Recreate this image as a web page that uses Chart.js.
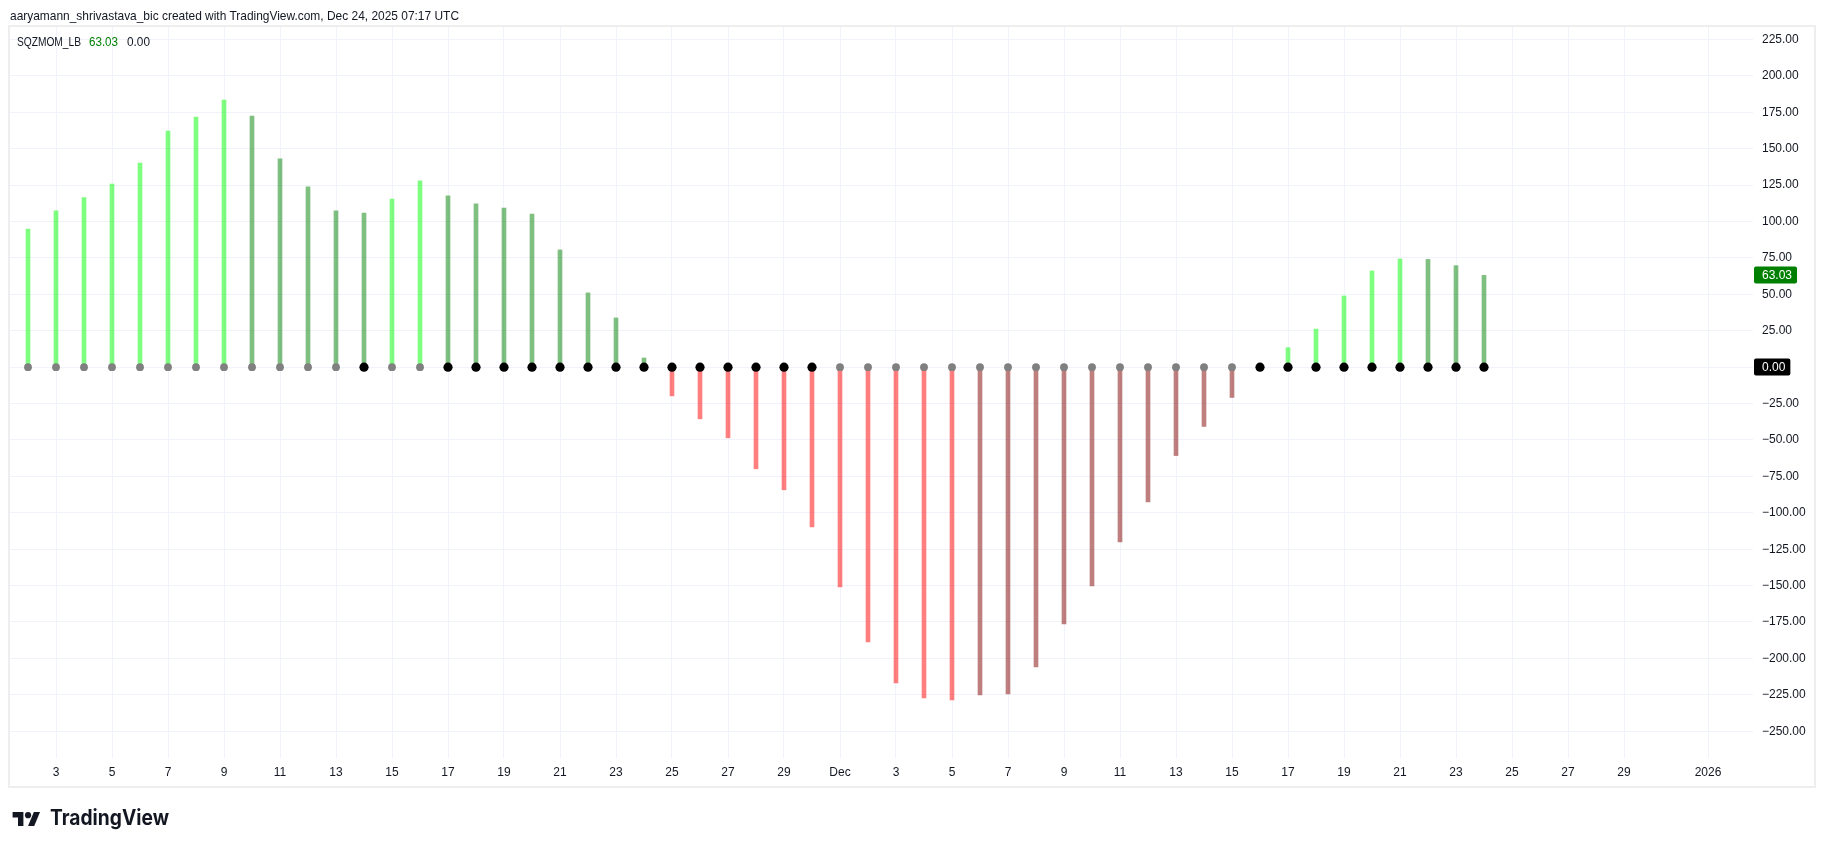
<!DOCTYPE html>
<html>
<head>
<meta charset="utf-8">
<script src="https://cdn.jsdelivr.net/npm/chart.js@4.4.0/dist/chart.umd.min.js"></script>
<style>
  html, body { margin:0; padding:0; background:#ffffff; }
  body { width:1825px; height:847px; position:relative; overflow:hidden; font-family:'Liberation Sans', Arial, sans-serif; color:#131722; }
  #c { position:absolute; left:0; top:0; }
  .txt { position:absolute; white-space:nowrap; transform-origin:0 50%; line-height:1; }
</style>
</head>
<body>
<canvas id="c" width="1825" height="847"></canvas>
<div id="hdr" class="txt" style="left:10px; top:9px; font-size:13px;">aaryamann_shrivastava_bic created with TradingView.com, Dec 24, 2025 07:17 UTC</div>
<div id="lg1" class="txt" style="left:17px; top:36px; font-size:12px;">SQZMOM_LB</div>
<div id="lg2" class="txt" style="left:89px; top:36px; font-size:12px; color:#008000;">63.03</div>
<div id="lg3" class="txt" style="left:127px; top:36px; font-size:12px;">0.00</div>
<svg style="position:absolute; left:12px; top:809px;" width="29" height="17" viewBox="0 0 36 22">
  <path d="M14 22H7V11H0V4h14v18z" fill="#131722"/>
  <circle cx="20" cy="8" r="4" fill="#131722"/>
  <path d="M28 22h-8l7.5-18h8L28 22z" fill="#131722"/>
</svg>
<div id="logo" class="txt" style="left:50px; top:807px; font-size:21px; font-weight:700; font-family:Inter, 'Liberation Sans', sans-serif;">TradingView</div>
<script>
// ---- data ----
const dates = [
  '2025-11-02','2025-11-03','2025-11-04','2025-11-05','2025-11-06','2025-11-07','2025-11-08','2025-11-09',
  '2025-11-10','2025-11-11','2025-11-12','2025-11-13','2025-11-14','2025-11-15','2025-11-16','2025-11-17',
  '2025-11-18','2025-11-19','2025-11-20','2025-11-21','2025-11-22','2025-11-23','2025-11-24','2025-11-25',
  '2025-11-26','2025-11-27','2025-11-28','2025-11-29','2025-11-30',
  '2025-12-01','2025-12-02','2025-12-03','2025-12-04','2025-12-05','2025-12-06','2025-12-07','2025-12-08',
  '2025-12-09','2025-12-10','2025-12-11','2025-12-12','2025-12-13','2025-12-14','2025-12-15','2025-12-16',
  '2025-12-17','2025-12-18','2025-12-19','2025-12-20','2025-12-21','2025-12-22','2025-12-23','2025-12-24'
];
const momentum = [
  94.9, 107.3, 116.4, 125.8, 140.2, 162.2, 171.8, 183.5,
  172.5, 143.0, 123.8, 107.3, 105.9, 115.5, 127.9, 117.6,
  112.1, 109.3, 105.2, 80.5, 51.0, 33.8, 6.3, -19.7,
  -35.5, -48.5, -69.8, -84.2, -109.7,
  -150.9, -188.6, -216.8, -227.1, -228.5, -225.0, -224.4, -205.8,
  -176.3, -150.2, -120.0, -92.5, -60.7, -40.7, -20.8, 0,
  13.4, 26.2, 48.9, 66.1, 74.3, 74.0, 69.7, 63.03
];
// 1 = squeeze on (black dot), 0 = squeeze off (gray dot)
const squeezeOn = [
  0,0,0,0,0,0,0,0,
  0,0,0,0,1,0,0,1,
  1,1,1,1,1,1,1,1,
  1,1,1,1,1,
  0,0,0,0,0,0,0,0,
  0,0,0,0,0,0,0,1,
  1,1,1,1,1,1,1,1
];
const xTickDates = [
  '2025-11-03','2025-11-05','2025-11-07','2025-11-09','2025-11-11','2025-11-13','2025-11-15','2025-11-17',
  '2025-11-19','2025-11-21','2025-11-23','2025-11-25','2025-11-27','2025-11-29','2025-12-01','2025-12-03',
  '2025-12-05','2025-12-07','2025-12-09','2025-12-11','2025-12-13','2025-12-15','2025-12-17','2025-12-19',
  '2025-12-21','2025-12-23','2025-12-25','2025-12-27','2025-12-29','2026-01-01'
];
const xTickLabels = [
  '3','5','7','9','11','13','15','17','19','21','23','25','27','29','Dec','3',
  '5','7','9','11','13','15','17','19','21','23','25','27','29','2026'
];
const yTicks = [-250,-225,-200,-175,-150,-125,-100,-75,-50,-25,0,25,50,75,100,125,150,175,200,225];
const lastValue = 63.03;
const lastDot = 0.00;

// ---- helpers ----
const DAY0 = Date.UTC(2025, 10, 1);
function dayIndex(s) {
  const p = s.split('-').map(Number);
  return Math.round((Date.UTC(p[0], p[1]-1, p[2]) - DAY0) / 86400000);
}
const xs = dates.map(dayIndex);
const tickXs = xTickDates.map(dayIndex);
const LIME = 'rgba(0,255,0,0.5)', GREEN = 'rgba(0,128,0,0.5)', RED = 'rgba(255,0,0,0.5)', MAROON = 'rgba(128,0,0,0.5)';
const barColors = momentum.map((v, i) => {
  const p = i > 0 ? momentum[i-1] : 0;
  return v > 0 ? (v > p ? LIME : GREEN) : (v < p ? RED : MAROON);
});
const fmt = v => (v < 0 ? '\u2212' : '') + Math.abs(v).toFixed(2);

function fit(id, w) {
  const el = document.getElementById(id);
  const r = el.getBoundingClientRect().width;
  if (r > 0) el.style.transform = 'scaleX(' + (w / r) + ')';
}

const framePlugin = {
  id: 'frame',
  afterDraw(chart) {
    const c = chart.ctx;
    const ys = chart.scales.y;
    c.save();
    c.strokeStyle = '#eeeeee';
    c.lineWidth = 2;
    c.strokeRect(9, 26, 1806, 761);
    // price labels
    c.font = '12px "Liberation Sans", Arial, sans-serif';
    c.textBaseline = 'middle';
    c.textAlign = 'left';
    const boxes = [[lastValue, '#008000'], [lastDot, '#000000']];
    boxes.forEach(([v, col]) => {
      const y = ys.getPixelForValue(v);
      const t = fmt(v);
      const w = c.measureText(t).width + 13;
      c.fillStyle = col;
      c.beginPath();
      if (c.roundRect) c.roundRect(1754, Math.round(y) - 8.5, w, 17, 2); else c.rect(1754, Math.round(y) - 8.5, w, 17);
      c.fill();
      c.fillStyle = '#ffffff';
      c.fillText(t, 1762, Math.round(y) + 0.5);
    });
    c.restore();
  }
};

new Chart(document.getElementById('c'), {
  type: 'bar',
  data: {
    datasets: [
      {
        type: 'scatter',
        data: xs.map((x, i) => ({ x: x, y: 0 })),
        pointRadius: squeezeOn.map(s => s ? 4.6 : 3.9),
        pointBackgroundColor: squeezeOn.map(s => s ? '#000000' : '#808080'),
        pointBorderWidth: 0,
        pointHoverRadius: 0,
        order: 0
      },
      {
        type: 'bar',
        data: xs.map((x, i) => ({ x: x, y: momentum[i] })),
        backgroundColor: barColors,
        barThickness: 4,
        borderWidth: 0,
        order: 1
      }
    ]
  },
  options: {
    responsive: false,
    animation: false,
    devicePixelRatio: 1,
    layout: { padding: { left: 9, right: 10, top: 26, bottom: 60 } },
    plugins: { legend: { display: false }, tooltip: { enabled: false } },
    events: [],
    scales: {
      x: {
        type: 'linear',
        min: 9 / 28,
        max: 1753 / 28,
        offset: false,
        grid: { color: '#f0f3fa', lineWidth: 1, drawTicks: false, offset: false },
        border: { display: false },
        afterBuildTicks: s => { s.ticks = tickXs.map(v => ({ value: v })); },
        afterFit: s => { s.height = 29; },
        ticks: {
          autoSkip: false, maxRotation: 0, padding: 7, color: '#131722',
          font: { family: '"Liberation Sans", Arial, sans-serif', size: 12 },
          callback: v => { const k = tickXs.indexOf(v); return k >= 0 ? xTickLabels[k] : ''; }
        }
      },
      y: {
        type: 'linear',
        position: 'right',
        min: -268.4,
        max: 234.3,
        grid: { color: '#f0f3fa', lineWidth: 1, drawTicks: false },
        border: { display: false },
        afterBuildTicks: s => { s.ticks = yTicks.map(v => ({ value: v })); },
        afterFit: s => { s.width = 62; },
        ticks: {
          padding: 9, color: '#131722',
          font: { family: '"Liberation Sans", Arial, sans-serif', size: 12 },
          callback: v => fmt(v)
        }
      }
    }
  },
  plugins: [framePlugin]
});

fit('hdr', 449);
fit('lg1', 64);
fit('lg2', 29);
fit('lg3', 23);
fit('logo', 119);
</script>
</body>
</html>
